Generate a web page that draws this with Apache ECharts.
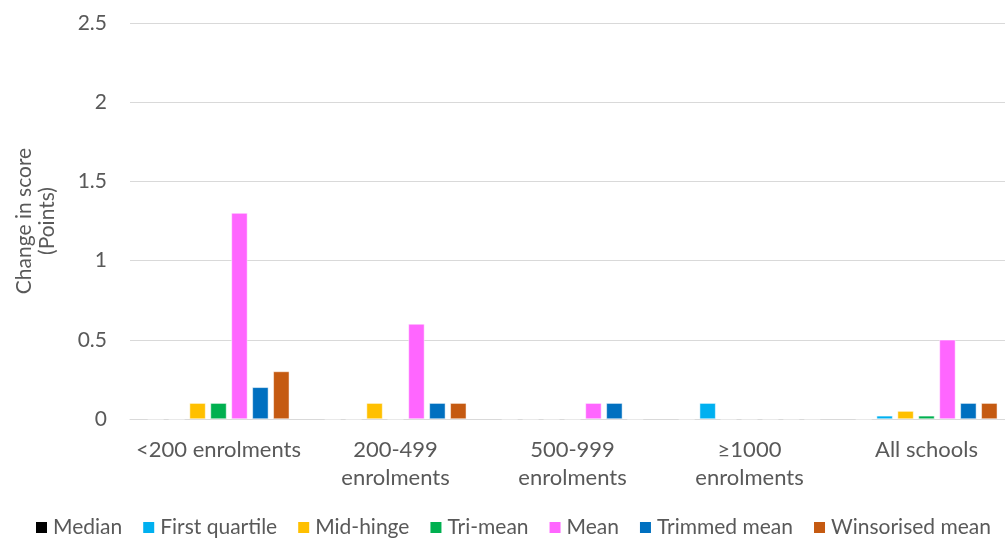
<!DOCTYPE html>
<html>
<head>
<meta charset="utf-8">
<script src="https://cdn.jsdelivr.net/npm/echarts@6/dist/echarts.min.js"></script>
<style>html,body{margin:0;padding:0;background:#fff}#c{width:1005px;height:545px}</style>
</head>
<body>
<div id="c"></div>
<script>
const categories = ['<200 enrolments', '200-499\nenrolments', '500-999\nenrolments', '≥1000\nenrolments', 'All schools'];
const seriesNames = ['Median', 'First quartile', 'Mid-hinge', 'Tri-mean', 'Mean', 'Trimmed mean', 'Winsorised mean'];
const median        = [0, 0, 0, 0, 0];
const firstQuartile = [0, 0, 0, 0.1, 0.02];
const midHinge      = [0.1, 0.1, 0, 0, 0.05];
const triMean       = [0.1, 0, 0, 0, 0.02];
const mean          = [1.3, 0.6, 0.1, 0, 0.5];
const trimmedMean   = [0.2, 0.1, 0.1, 0, 0.1];
const winsorisedMean= [0.3, 0.1, 0, 0, 0.1];
const yTicks = [0, 0.5, 1, 1.5, 2, 2.5];

const colors = ['#000000', '#00B0F0', '#FFC000', '#00B050', '#FF66FF', '#0070C0', '#C55A11'];
const allData = [median, firstQuartile, midHinge, triMean, mean, trimmedMean, winsorisedMean];
const font = 'Lato';
const txt = '#595959';
const fs = 21;

const chart = echarts.init(document.getElementById('c'));
chart.setOption({
  animation: false,
  color: colors,
  textStyle: { fontFamily: font },
  grid: { left: 130, width: 885, top: 23, height: 396, outerBoundsMode: 'none' },
  legend: {
    bottom: 2,
    left: 29,
    itemWidth: 13,
    itemHeight: 13,
    itemGap: 19,
    icon: 'rect',
    textStyle: { fontSize: fs, color: txt, fontFamily: font },
    data: seriesNames
  },
  xAxis: {
    type: 'category',
    data: categories,
    axisLine: { lineStyle: { color: '#d9d9d9', width: 1 } },
    axisTick: { show: false },
    axisLabel: { fontSize: 22, color: txt, margin: 17, lineHeight: 28, interval: 0 }
  },
  yAxis: {
    type: 'value',
    min: 0, max: 2.5, interval: 0.5,
    name: 'Change in score\n(Points)',
    nameLocation: 'middle',
    nameRotate: 90,
    nameGap: 71,
    nameTextStyle: { fontSize: fs, color: txt, lineHeight: 23 },
    axisLine: { show: false },
    axisTick: { show: false },
    splitLine: { lineStyle: { color: '#d9d9d9', width: 1 } },
    axisLabel: { fontSize: fs, color: txt, margin: 23, formatter: v => yTicks.includes(v) ? String(v) : '' }
  },
  series: seriesNames.map((n, i) => ({
    name: n,
    type: 'bar',
    data: allData[i],
    barGap: '31%',
    barCategoryGap: '20%',
    itemStyle: { color: colors[i], borderColor: '#ffffff', borderWidth: 0.5 }
  }))
});
</script>
</body>
</html>
